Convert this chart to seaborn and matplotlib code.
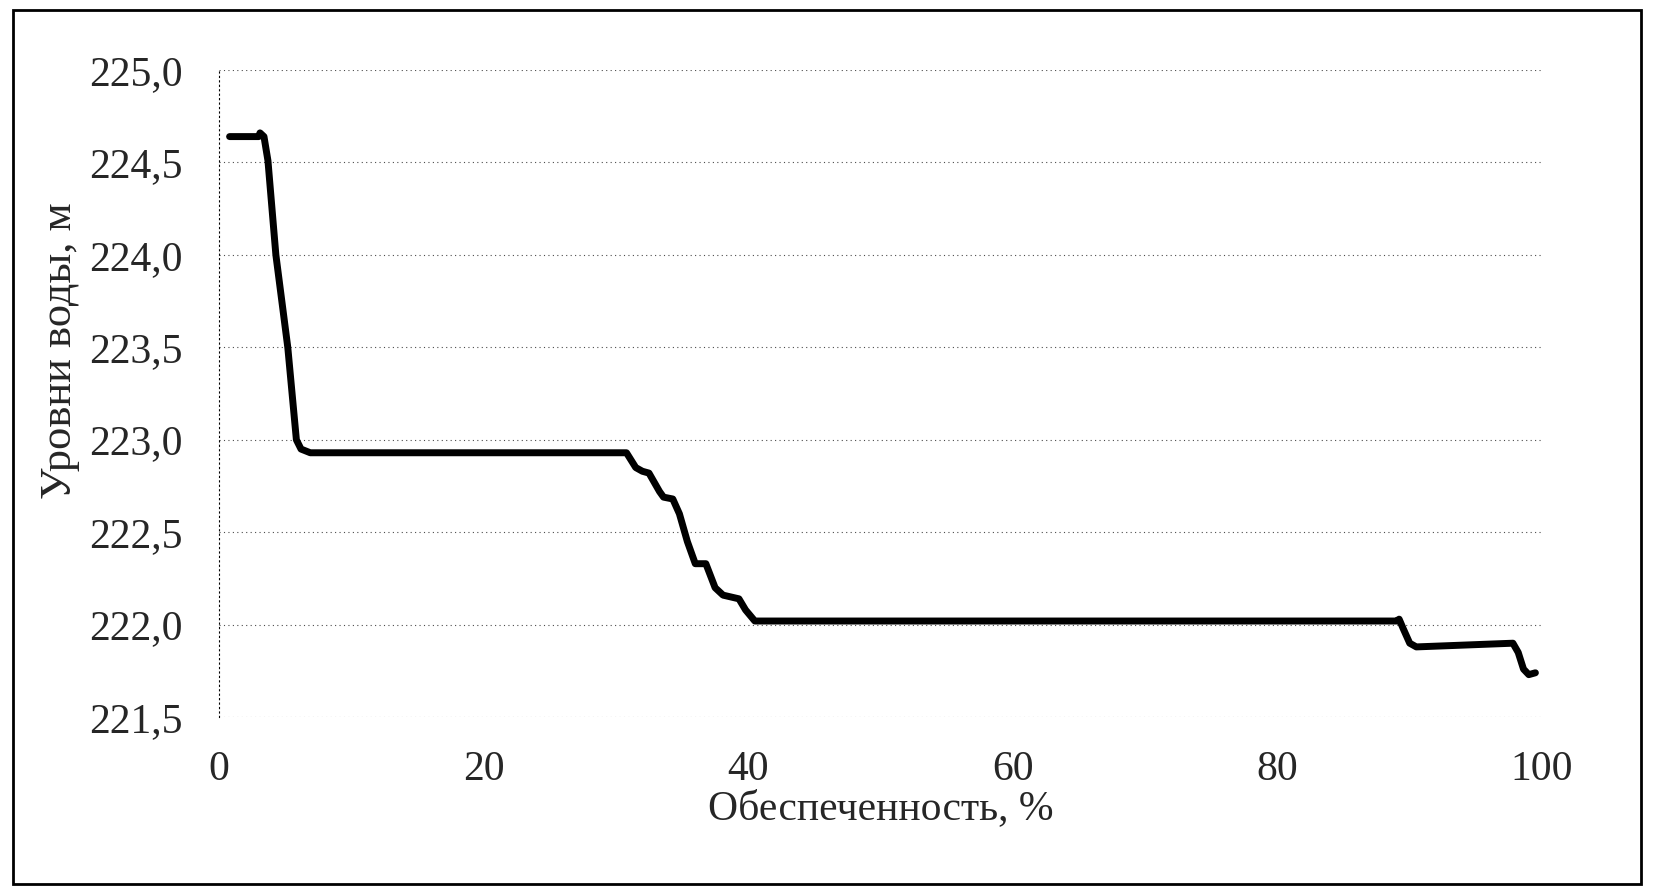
import pandas as pd
import matplotlib.pyplot as plt
import seaborn as sns
from matplotlib.patches import Rectangle

# Data
supply_pct = [0.8, 3.0, 3.1, 3.4, 3.7, 4.3, 5.2, 5.85, 6.2, 6.9,
              30.8, 31.5, 32.0, 32.5, 33.3, 33.6, 34.3, 34.8, 35.4, 36.0,
              36.8, 37.5, 38.1, 39.3, 39.8, 40.5, 89.0, 89.2, 89.5, 90.0,
              90.5, 97.8, 98.2, 98.6, 99.0, 99.5]
water_level = [224.64, 224.64, 224.66, 224.64, 224.51, 224.0, 223.5, 223.0, 222.95, 222.93,
               222.93, 222.85, 222.83, 222.82, 222.72, 222.69, 222.68, 222.6, 222.45, 222.33,
               222.33, 222.2, 222.16, 222.14, 222.08, 222.02, 222.02, 222.03, 221.98, 221.90,
               221.88, 221.90, 221.85, 221.76, 221.73, 221.74]
y_ticks = [221.5, 222.0, 222.5, 223.0, 223.5, 224.0, 224.5, 225.0]
x_ticks = [0, 20, 40, 60, 80, 100]

df = pd.DataFrame({"x": supply_pct, "y": water_level})

sns.set_style("white")
plt.rcParams["font.family"] = ["Liberation Serif", "DejaVu Serif"]

fig = plt.figure(figsize=(16.54, 8.92), dpi=100)
ax = fig.add_axes([0.1324, 0.196, 0.7999, 0.7255])

sns.lineplot(data=df, x="x", y="y", color="black", linewidth=5, ax=ax)

ax.set_xlim(0, 100)
ax.set_ylim(221.5, 225.0)
ax.set_xticks(x_ticks)
ax.set_yticks(y_ticks)
ax.set_yticklabels([f"{v:.1f}".replace(".", ",") for v in y_ticks])
ax.tick_params(axis="both", labelsize=30, length=0)
ax.tick_params(axis="y", pad=26)
ax.tick_params(axis="x", pad=24)

ax.yaxis.grid(True, linestyle=(0, (1, 3)), color="black", linewidth=0.8, alpha=0.7)
ax.xaxis.grid(False)
for s in ["top", "right", "bottom"]:
    ax.spines[s].set_visible(False)
ax.spines["left"].set_linestyle((0, (1, 3)))
ax.spines["left"].set_color("black")
ax.spines["left"].set_linewidth(0.8)

ax.set_xlabel("Обеспеченность, %", fontsize=30)
ax.set_ylabel("Уровни воды, м", fontsize=32)
ax.xaxis.set_label_coords(0.5, -0.112, transform=ax.transAxes)
ax.yaxis.set_label_coords(-0.105, 0.567, transform=ax.transAxes)

# outer frame around the whole chart
fig.patches.append(Rectangle((0.008, 0.009), 0.984, 0.98, transform=fig.transFigure,
                             fill=False, edgecolor="black", linewidth=2))

fig.savefig("out.png", dpi=100)
